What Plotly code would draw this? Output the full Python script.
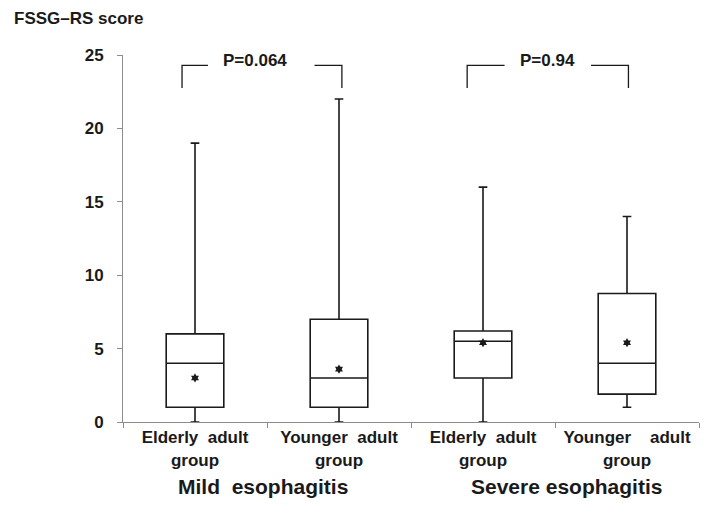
import plotly.graph_objects as go

# ---- data ----
positions = [0, 1, 2, 3]
categories = [
    "Elderly\u00a0\u00a0adult<br>group",
    "Younger\u00a0\u00a0adult<br>group",
    "Elderly\u00a0\u00a0adult<br>group",
    "Younger\u00a0\u00a0\u00a0\u00a0adult<br>group",
]
lower = [0, 0, 0, 1]
q1 = [1, 1, 3, 1.9]
median = [4, 3, 5.5, 4]
q3 = [6, 7, 6.2, 8.75]
upper = [19, 22, 16, 14]
mean = [3, 3.6, 5.4, 5.4]

y_ticks = [0, 5, 10, 15, 20, 25]
p_labels = ["P=0.064", "P=0.94"]
p_label_x = [0.42, 2.45]
bracket_left = [[-0.09, 0.09], [1.89, 2.15]]
bracket_right = [[0.83, 1.02], [2.75, 3.01]]
bracket_top = 24.3
bracket_bottom = 22.75
p_label_y = 24.65
group_labels = ["Mild\u00a0\u00a0esophagitis", "Severe esophagitis"]
group_label_x = [0.47, 2.58]

FONT = "Arial, 'Liberation Sans', sans-serif"
INK = "#1a1a1a"
AXIS = "#8c8c8c"

fig = go.Figure()

fig.add_trace(go.Box(
    x=positions, q1=q1, median=median, q3=q3,
    lowerfence=lower, upperfence=upper,
    width=0.4, whiskerwidth=0.15,
    fillcolor="white", line=dict(color=INK, width=1.6),
    boxpoints=False, hoverinfo="skip", showlegend=False,
))

fig.add_trace(go.Scatter(
    x=positions, y=mean, mode="markers",
    marker=dict(symbol="hexagram", size=7, color=INK, line=dict(width=0)),
    showlegend=False, hoverinfo="skip",
))

# significance brackets
for (l0, l1), (r0, r1) in zip(bracket_left, bracket_right):
    fig.add_trace(go.Scatter(
        x=[l0, l0, l1, None, r0, r1, r1],
        y=[bracket_bottom, bracket_top, bracket_top, None, bracket_top, bracket_top, bracket_bottom],
        mode="lines", line=dict(color=INK, width=1.3),
        showlegend=False, hoverinfo="skip", cliponaxis=False,
    ))

annotations = []
for lab, x in zip(p_labels, p_label_x):
    annotations.append(dict(x=x, y=p_label_y, xref="x", yref="y", text="<b>%s</b>" % lab,
                            showarrow=False, font=dict(family=FONT, size=17, color=INK)))
for lab, x in zip(group_labels, group_label_x):
    annotations.append(dict(x=x, y=-0.177, xref="x", yref="paper", text="<b>%s</b>" % lab,
                            showarrow=False, yanchor="middle",
                            font=dict(family=FONT, size=21, color=INK)))
annotations.append(dict(x=-0.192, y=1.10, xref="paper", yref="paper",
                        text="<b>FSSG\u2013RS score</b>", showarrow=False,
                        xanchor="left", yanchor="middle",
                        font=dict(family=FONT, size=17, color=INK)))

# page body adds an 8px offset, so the figure is 8px smaller on each axis
fig.update_layout(
    width=700, height=521,
    margin=dict(l=115, r=9, t=47, b=107),
    paper_bgcolor="white", plot_bgcolor="white",
    annotations=annotations,
    font=dict(family=FONT, color=INK),
    xaxis=dict(
        range=[-0.5, 3.5], tickmode="array", tickvals=positions,
        ticktext=["<b>%s</b>" % c for c in categories],
        ticks="", showline=True, linecolor=AXIS, linewidth=1,
        showgrid=False, zeroline=False, automargin=False,
        tickfont=dict(family=FONT, size=17, color=INK),
        minor=dict(tickmode="linear", tick0=0.5, dtick=1, ticks="outside",
                   ticklen=5, tickcolor=AXIS, tickwidth=1, showgrid=False),
    ),
    yaxis=dict(
        range=[0, 25], tickmode="array", tickvals=y_ticks,
        ticktext=["<b>%d</b>" % v for v in y_ticks],
        ticks="outside", ticklen=5, tickcolor=AXIS, tickwidth=1,
        showline=True, linecolor=AXIS, linewidth=1,
        showgrid=False, zeroline=False, automargin=False,
        tickfont=dict(family=FONT, size=17, color=INK),
        ticklabelstandoff=10,
    ),
)

fig.write_html("out.html")
